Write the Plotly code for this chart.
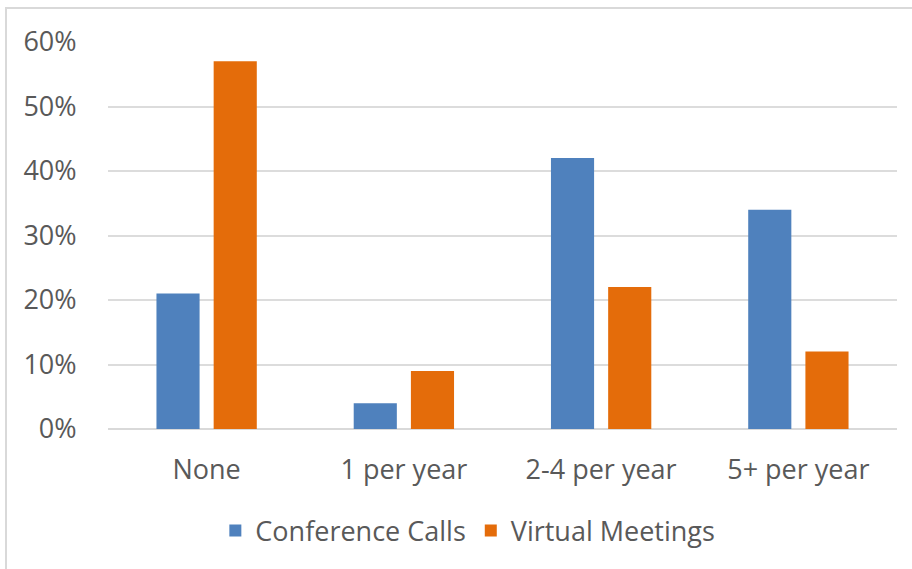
import plotly.graph_objects as go

categories = ["None", "1 per year", "2-4 per year", "5+ per year"]
conference_calls = [0.21, 0.04, 0.42, 0.34]
virtual_meetings = [0.57, 0.09, 0.22, 0.12]
series_names = ["Conference Calls", "Virtual Meetings"]
tick_vals = [0, 0.1, 0.2, 0.3, 0.4, 0.5, 0.6]
tick_text = ["0%", "10%", "20%", "30%", "40%", "50%", "60%"]

BLUE = "#4F81BD"
ORANGE = "#E46C0A"
TEXT = "#595959"
FONT = "Open Sans"
FS = 27

fig = go.Figure()
fig.add_trace(go.Bar(x=categories, y=conference_calls, name=series_names[0],
                     marker=dict(color=BLUE, line=dict(width=0))))
fig.add_trace(go.Bar(x=categories, y=virtual_meetings, name=series_names[1],
                     marker=dict(color=ORANGE, line=dict(width=0))))

fig.update_layout(
    width=912, height=569,
    margin=dict(l=108, r=15, t=42, b=140),
    paper_bgcolor="white", plot_bgcolor="white",
    barmode="group", bargap=0.42, bargroupgap=0.246,
    font=dict(family=FONT, color=TEXT, size=FS),
    showlegend=True,
    legend=dict(orientation="h", x=(471 - 108) / 789 - 0.004, xanchor="center",
                y=(429 - 531) / 387, yanchor="middle",
                font=dict(size=FS, color=TEXT), itemwidth=30, traceorder="normal"),
    xaxis=dict(showgrid=False, showline=False, ticks="outside", ticklen=17,
               tickcolor="rgba(0,0,0,0)", tickfont=dict(size=FS, color=TEXT)),
    yaxis=dict(range=[0, 0.6], tickvals=tick_vals, ticktext=tick_text,
               showgrid=True, gridcolor="#DCDCDC", gridwidth=1.5,
               zeroline=True, zerolinecolor="#D9D9D9", zerolinewidth=2,
               showline=False, ticks="outside", ticklen=25, tickcolor="rgba(0,0,0,0)",
               tickfont=dict(size=FS, color=TEXT)),
    shapes=[dict(type="rect", xref="paper", yref="paper",
                 x0=(6 - 108) / 789, x1=(930 - 108) / 789,
                 y0=(429 - 590) / 387, y1=(429 - 8) / 387,
                 line=dict(color="#D9D9D9", width=2), fillcolor="rgba(0,0,0,0)",
                 layer="below")],
)

fig.write_html("out.html", config={"displayModeBar": False},
               post_script="document.body.style.margin='0';document.body.style.padding='0';")
